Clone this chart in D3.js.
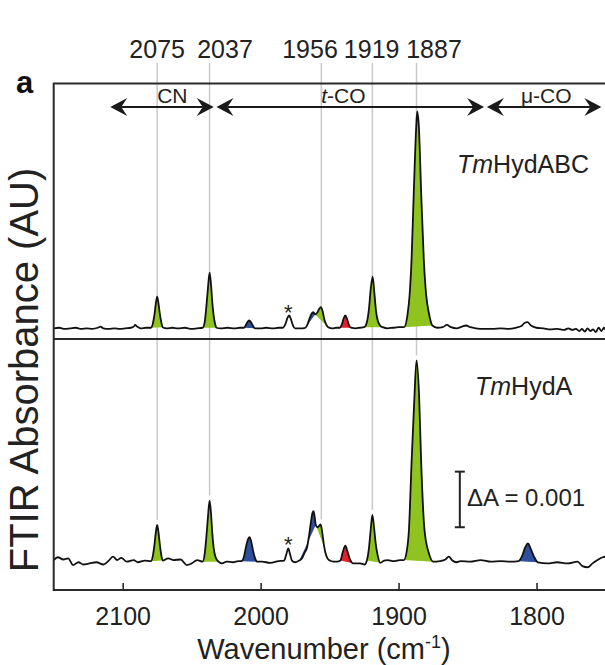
<!DOCTYPE html>
<html>
<head>
<meta charset="utf-8">
<script src="https://cdn.jsdelivr.net/npm/d3@7"></script>
<style>
  body { margin: 0; background: #fff; }
  svg { display: block; font-family: "Liberation Sans", Arial, sans-serif; }
</style>
</head>
<body>
<div id="chart"></div>
<script>
// ---- data (wavenumber in cm-1, absorbance in units of 0.001) ----
const xTicks = [2100, 2000, 1900, 1800];
const peakLabels = [2075, 2037, 1956, 1919, 1887];
const peakLabelAt = [2075, 2025.8, 1964.2, 1919.5, 1874.3];

const regionNames = ["CN", "t-CO", "μ-CO"];
const regionFrom = [2109, 2032, 1836];
const regionTo = [2034, 1838, 1753];
const regionLabelAt = [2064, 1940, 1793];

const sampleNames = ["TmHydABC", "TmHydA"];
const starPeak = 1980;
const scaleBarValue = 1; // ΔA = 0.001

const upperSpectrum = [
  [2150,0.00],[2146,0.01],[2142,-0.01],[2138,0.00],[2134,0.01],[2130,-0.01],[2126,0.00],[2122,-0.01],
  [2118,0.01],[2116,0.03],[2114,0.00],[2110,-0.01],[2106,0.00],[2102,-0.01],[2098,0.00],[2094,0.01],
  [2092,0.03],[2091,0.06],[2089.5,0.03],[2087,0.00],[2083,0.01],
  [2079.5,0.01],[2078,0.10],[2077,0.24],[2076,0.44],[2075,0.57],[2074,0.44],[2073,0.25],[2072,0.11],[2071,0.02],
  [2068,0.00],[2064,0.01],[2060,0.00],[2055,0.01],[2050,-0.01],[2046,0.00],
  [2042,0.01],[2040.5,0.12],[2039.5,0.35],[2038.2,0.72],[2037,1.00],[2036,0.80],[2035,0.46],[2034,0.22],[2033,0.08],[2032,0.01],
  [2029,0.00],[2024,0.01],[2019,0.00],[2015,0.01],
  [2012,0.01],[2010.5,0.07],[2009,0.13],[2008.3,0.14],[2007,0.11],[2005.5,0.04],[2004,0.00],
  [2000,0.00],[1996,0.01],[1991,0.00],[1987,0.01],
  [1984,0.01],[1982,0.08],[1980.5,0.19],[1979.3,0.23],[1978,0.16],[1976.5,0.05],[1975,0.00],
  [1972,0.00],[1969.5,0.00],
  [1967.5,0.01],[1966,0.07],[1964.5,0.18],[1962.5,0.28],[1961.8,0.29],[1960.5,0.25],
  [1959,0.28],[1957.5,0.35],[1956.3,0.38],[1955,0.30],[1953.8,0.16],[1952.5,0.07],[1951,0.02],
  [1948,0.00],[1945,0.01],
  [1942.5,0.01],[1941,0.08],[1939.8,0.18],[1938.6,0.23],[1937.4,0.17],[1936,0.06],[1934.5,0.01],
  [1931,0.00],[1928,0.01],
  [1925,0.02],[1923,0.11],[1921.5,0.34],[1920.2,0.70],[1918.8,0.93],[1917.5,0.62],[1916.3,0.30],[1915,0.13],[1913,0.04],[1911.5,0.02],
  [1908,0.00],[1904,0.01],[1900,0.02],
  [1896,0.02],[1893.5,0.25],[1892,0.60],[1890.6,1.23],[1889,2.43],[1887.2,3.63],[1886.5,3.90],[1885.3,3.63],
  [1883.6,2.43],[1881.7,1.23],[1880,0.60],[1878,0.27],[1875.5,0.05],
  [1872,0.01],[1868,0.02],[1865,0.06],[1862,0.02],[1858,0.00],[1854,0.03],[1851,0.05],[1848,0.02],[1844,0.00],
  [1838,-0.01],[1832,-0.01],[1826,0.00],[1820,-0.01],[1815,0.01],[1811,0.04],[1808.5,0.10],[1806.6,0.11],
  [1804,0.05],[1800,0.01],[1795,0.00],[1790,-0.02],[1785,-0.01],[1780,-0.03],[1777,0.00],[1774,-0.03],
  [1771.5,-0.01],[1769,-0.05],[1767,-0.01],[1765,-0.06],[1763,0.00],[1761,-0.05],[1759,-0.02],[1757,-0.07],
  [1755,0.01],[1753,-0.05],[1751,0.01],[1750,-0.03]
];

const lowerSpectrum = [
  [2150,0.03],[2147,0.08],[2143,0.04],[2139.5,0.06],[2136,-0.06],[2132,-0.01],[2128.5,-0.05],[2124,-0.03],
  [2119,-0.01],[2114,-0.05],[2110.5,0.01],[2107,0.09],[2104,0.03],[2101,0.07],[2097,0.00],[2092,0.03],
  [2089,-0.01],[2084,0.02],
  [2079.5,0.01],[2078,0.12],[2077,0.30],[2076,0.52],[2075,0.66],[2074,0.52],[2073,0.30],[2072,0.12],[2071,0.02],
  [2067,0.06],[2063,0.03],[2058,0.04],[2053.5,-0.06],[2050,-0.03],[2046,0.03],
  [2042,0.00],[2040.5,0.15],[2039.5,0.40],[2038.2,0.80],[2037,1.10],[2036,0.88],[2035,0.50],[2034,0.24],[2032.5,0.07],[2030.5,0.00],
  [2028,-0.03],[2024.5,0.00],[2020,-0.01],[2016,0.01],
  [2014,0.01],[2012,0.10],[2010.5,0.28],[2009,0.41],[2008,0.44],[2007,0.38],[2005.5,0.20],[2004,0.06],[2002.5,0.00],
  [1999,0.00],[1993,-0.02],[1987,0.01],
  [1983,0.02],[1981.3,0.14],[1980,0.24],[1978.8,0.15],[1977.3,0.02],
  [1975,-0.01],
  [1972,0.02],[1970,0.06],[1968,0.17],[1966.5,0.24],[1965,0.45],[1963.5,0.72],[1962.5,0.87],[1961.6,0.91],[1960.8,0.80],[1960,0.66],
  [1959,0.62],[1957.8,0.64],[1956.5,0.67],[1955.3,0.52],[1954,0.28],[1952.5,0.11],[1950.5,0.03],
  [1947,0.00],[1944.5,0.00],
  [1942.2,0.02],[1940.6,0.16],[1938.6,0.29],[1937,0.18],[1935.2,0.04],[1933,-0.03],
  [1928,-0.03],[1924.5,-0.05],
  [1923,0.02],[1921.5,0.24],[1920.3,0.55],[1919,0.84],[1917.8,0.62],[1916.6,0.33],[1915.2,0.12],[1913.2,-0.02],
  [1910.5,0.02],[1908,0.03],[1903.5,0.01],[1899,0.03],
  [1896.2,0.03],[1894,0.20],[1892.5,0.57],[1890.6,1.77],[1888.5,2.97],[1887,3.62],[1885.1,2.97],[1883.6,1.77],
  [1881.2,0.57],[1878,0.15],[1875,0.00],
  [1870,0.01],[1866,0.04],[1863.6,0.09],[1861,0.02],[1858,-0.01],[1855,0.01],[1848,0.00],[1840.5,0.03],
  [1833,0.00],[1826,0.01],[1819,0.00],
  [1813,0.01],[1810.5,0.10],[1808,0.27],[1806.2,0.33],[1804.5,0.25],[1802,0.10],[1799,-0.01],
  [1792,-0.03],[1785,-0.01],[1777.5,-0.03],[1770.3,0.00],[1766.7,-0.08],[1763,-0.10],[1759.4,-0.03],
  [1755.8,0.03],[1752,0.08],[1750,0.09]
];

// coloured bands: [from, to, kind]
const upperFills = [
  [2079.5, 2071, "g"], [2042, 2032, "g"], [2012, 2004, "b"], [1967.5, 1960.5, "b"],
  [1960.5, 1951, "g"], [1942.5, 1934.5, "r"], [1925, 1911.5, "g"], [1896, 1875.5, "g"]
];
const lowerFills = [
  [2079.5, 2071, "g"], [2042, 2030.5, "g"], [2014, 2002.5, "b"], [1972, 1960, "b"],
  [1960, 1950.5, "g"], [1942.2, 1933, "r"], [1923, 1913.2, "g"], [1896.2, 1875, "g"], [1813, 1799, "b"]
];

const fillColor = { g: "#8fc31f", b: "#2f4f9e", r: "#e5202e" };

// ---- chart ----
const W = 605, H = 665;
const plotLeft = 53.7, plotRight = 605.5, plotTop = 83.5, plotMid = 339, plotBottom = 590;
const pxPerUnit = 55.6;

const svg = d3.select("#chart").append("svg").attr("width", W).attr("height", H);

const x = d3.scaleLinear().domain([2150, 1750]).range([plotLeft, plotRight]);
const yUp = d3.scaleLinear().domain([0, 1]).range([328.3, 328.3 - pxPerUnit]);
const yLo = d3.scaleLinear().domain([0, 1]).range([561.7, 561.7 - pxPerUnit]);

// peak guide lines (behind everything)
peakLabels.forEach((p, i) => {
  const near = lowerSpectrum.filter(d => Math.abs(d[0] - p) <= 1.5);
  const yEnd = yLo(d3.max(near, d => d[1])) - 5;
  svg.append("line")
    .attr("x1", x(p)).attr("x2", x(p))
    .attr("y1", 63).attr("y2", yEnd)
    .attr("stroke", "#c9c9c9").attr("stroke-width", 1.5);
  svg.append("text")
    .attr("x", x(peakLabelAt[i])).attr("y", 58)
    .attr("text-anchor", "middle")
    .attr("font-size", 25).attr("fill", "#222")
    .text(p);
});

const drawPanel = (data, fills, y) => {
  const line = d3.line().x(d => x(d[0])).y(d => y(d[1])).curve(d3.curveMonotoneX);
  fills.forEach(f => {
    const pts = data.filter(d => d[0] <= f[0] && d[0] >= f[1]);
    svg.append("path")
      .attr("d", line(pts) + "Z")
      .attr("fill", fillColor[f[2]]);
  });
  svg.append("path")
    .datum(data)
    .attr("d", line)
    .attr("fill", "none")
    .attr("stroke", "#111")
    .attr("stroke-width", 1.8)
    .attr("stroke-linejoin", "round");

  // asterisk above the small peak
  const star = data.filter(d => Math.abs(d[0] - starPeak) <= 1);
  svg.append("text")
    .attr("x", x(starPeak)).attr("y", y(d3.max(star, d => d[1])) + 4)
    .attr("text-anchor", "middle")
    .attr("font-size", 22).attr("fill", "#222")
    .text("*");
};

drawPanel(upperSpectrum, upperFills, yUp);
drawPanel(lowerSpectrum, lowerFills, yLo);

// frame
const frame = svg.append("g").attr("stroke", "#2a2a2a").attr("stroke-width", 2).attr("fill", "none");
frame.append("path").attr("d", `M${plotRight + 2},${plotTop}H${plotLeft}V${plotBottom}H${plotRight + 2}`);
frame.append("line").attr("x1", plotLeft).attr("x2", plotRight + 2).attr("y1", plotMid).attr("y2", plotMid);

// bottom axis with inward ticks
const axis = svg.append("g").attr("transform", `translate(0,${plotBottom})`)
  .call(d3.axisBottom(x).tickValues(xTicks).tickFormat(d3.format("d"))
    .tickSizeInner(-7).tickSizeOuter(0).tickPadding(12));
axis.select(".domain").remove();
axis.selectAll(".tick line").attr("stroke", "#2a2a2a").attr("stroke-width", 1.6);
axis.selectAll(".tick text")
  .attr("font-size", 25).attr("fill", "#222")
  .attr("font-family", "Liberation Sans, Arial, sans-serif")
  .attr("dy", "0.9em");

// region arrows
const arrowY = 107;
const head = (tip, dir) => {
  const b = tip - dir * 17, n = tip - dir * 11;
  return `M${tip},${arrowY}L${b},${arrowY - 9}L${n},${arrowY}L${b},${arrowY + 9}Z`;
};
regionNames.forEach((name, i) => {
  const x1 = x(regionFrom[i]), x2 = x(regionTo[i]);
  svg.append("line")
    .attr("x1", x1 + 11).attr("x2", x2 - 11)
    .attr("y1", arrowY).attr("y2", arrowY)
    .attr("stroke", "#1a1a1a").attr("stroke-width", 2);
  svg.append("path").attr("d", head(x1, -1)).attr("fill", "#1a1a1a");
  svg.append("path").attr("d", head(x2, 1)).attr("fill", "#1a1a1a");
  const t = svg.append("text")
    .attr("x", x(regionLabelAt[i])).attr("y", 103)
    .attr("text-anchor", "middle")
    .attr("font-size", 21).attr("fill", "#222");
  if (name === "t-CO") {
    t.append("tspan").attr("font-style", "italic").text("t");
    t.append("tspan").text("-CO");
  } else {
    t.text(name);
  }
});

// sample names
const sampleText = (name, xPos, yPos) => {
  const t = svg.append("text").attr("x", xPos).attr("y", yPos)
    .attr("font-size", 25).attr("fill", "#222");
  t.append("tspan").attr("font-style", "italic").text(name.slice(0, 2));
  t.append("tspan").text(name.slice(2));
};
sampleText(sampleNames[0], 457, 173);
sampleText(sampleNames[1], 475, 395);

// scale bar
const barX = x(1855.6), barBase = 0.62;
const bar = svg.append("g").attr("stroke", "#222").attr("stroke-width", 2);
bar.append("line").attr("x1", barX).attr("x2", barX)
  .attr("y1", yLo(barBase)).attr("y2", yLo(barBase + scaleBarValue));
[barBase, barBase + scaleBarValue].forEach(v => {
  bar.append("line").attr("x1", barX - 5).attr("x2", barX + 5)
    .attr("y1", yLo(v)).attr("y2", yLo(v));
});
svg.append("text").attr("x", 467).attr("y", 506)
  .attr("font-size", 24).attr("fill", "#222")
  .text("ΔA = 0.001");

// panel letter
svg.append("text").attr("x", 16).attr("y", 93)
  .attr("font-size", 31).attr("font-weight", "bold").attr("fill", "#111")
  .text("a");

// axis titles
const xt = svg.append("text").attr("x", 324).attr("y", 659)
  .attr("text-anchor", "middle").attr("font-size", 29).attr("fill", "#222");
xt.append("tspan").text("Wavenumber (cm");
xt.append("tspan").attr("font-size", 18).attr("dy", -11).text("-1");
xt.append("tspan").attr("dy", 11).text(")");

svg.append("text")
  .attr("transform", "translate(38,370) rotate(-90)")
  .attr("text-anchor", "middle")
  .attr("font-size", 40).attr("fill", "#222")
  .text("FTIR Absorbance (AU)");
</script>
</body>
</html>
